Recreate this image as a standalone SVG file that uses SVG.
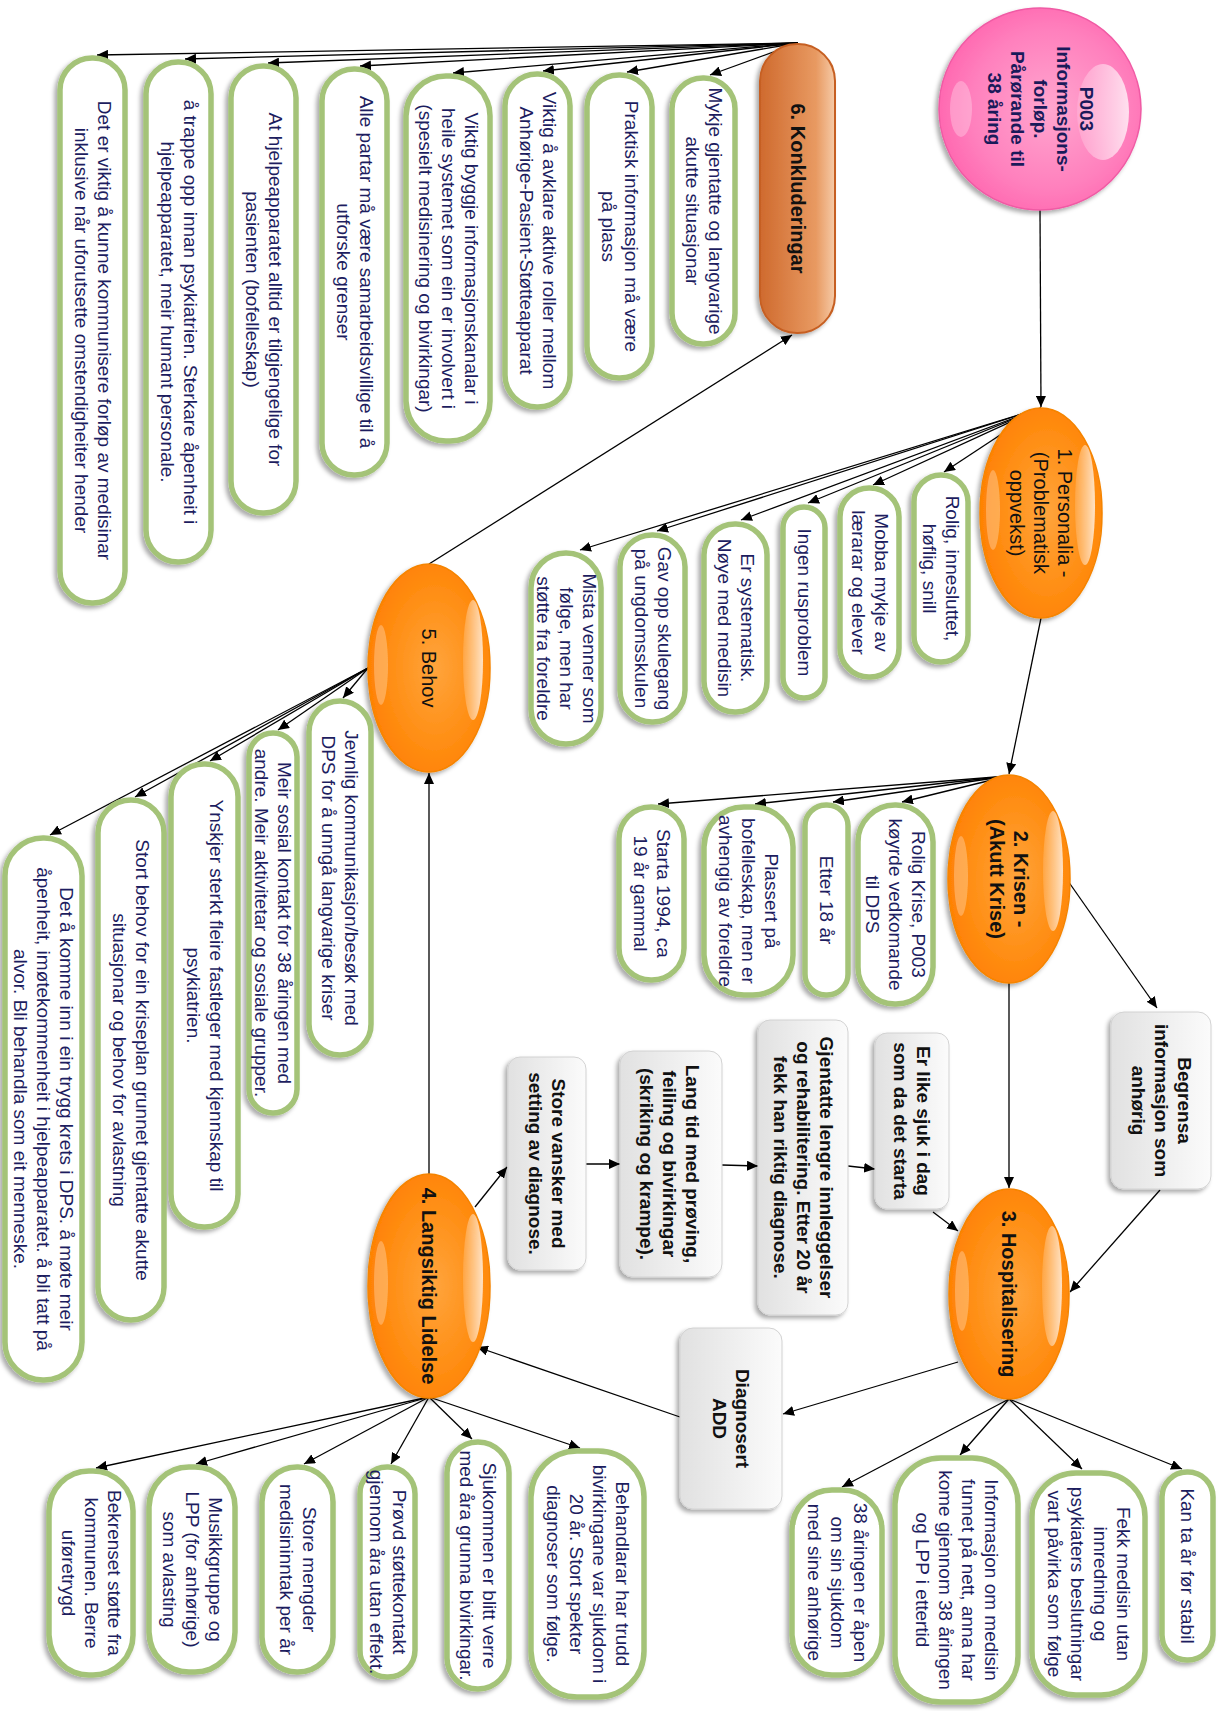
<svg xmlns="http://www.w3.org/2000/svg" width="1223" height="1711" viewBox="0 0 1223 1711">
  <defs>
    <style>
      .pill { fill: #ffffff; stroke: #a4c378; stroke-width: 5.5; filter: url(#sh); }
      .box { fill: url(#grey); stroke: #d2d2d2; stroke-width: 1; filter: url(#sh); }
      .orb { fill: url(#orange); stroke: #f58400; stroke-width: 1.5; filter: url(#sh); }
      .hl { fill: url(#shine); }
      .hl2 { fill: #ffffff; opacity: 0.28; }
      .tp { font-family: "Liberation Sans", Arial, sans-serif; font-size: 19px; fill: #1d1d5f; text-anchor: middle; }
      .tb { font-family: "Liberation Sans", Arial, sans-serif; font-size: 19px; font-weight: bold; fill: #111111; text-anchor: middle; }
      .to { font-family: "Liberation Sans", Arial, sans-serif; font-size: 20px; fill: #111111; text-anchor: middle; }
      .tob { font-family: "Liberation Sans", Arial, sans-serif; font-size: 20px; font-weight: bold; fill: #111111; text-anchor: middle; }
      .tr { font-family: "Liberation Sans", Arial, sans-serif; font-size: 19px; font-weight: bold; fill: #1a1a5a; text-anchor: middle; }
      .edge { stroke: #000000; stroke-width: 1.3; fill: none; marker-end: url(#ah); }
    </style>
    <marker id="ah" markerUnits="userSpaceOnUse" markerWidth="12" markerHeight="10" refX="11" refY="5" orient="auto">
      <path d="M0,0 L11,5 L0,10 z" fill="#000000"/>
    </marker>
    <filter id="sh" x="-15%" y="-20%" width="135%" height="150%">
      <feDropShadow dx="3" dy="3" stdDeviation="2.2" flood-color="#000000" flood-opacity="0.33"/>
    </filter>
    <radialGradient id="orange" cx="50%" cy="45%" r="60%">
      <stop offset="0%" stop-color="#ffa43c"/>
      <stop offset="65%" stop-color="#ff8d12"/>
      <stop offset="100%" stop-color="#ff7e00"/>
    </radialGradient>
    <radialGradient id="pink" cx="50%" cy="45%" r="60%">
      <stop offset="0%" stop-color="#ffa6cf"/>
      <stop offset="65%" stop-color="#ff80bd"/>
      <stop offset="100%" stop-color="#ff62ad"/>
    </radialGradient>
    <linearGradient id="shine" x1="0" y1="0" x2="0" y2="1">
      <stop offset="0%" stop-color="#ffffff" stop-opacity="0.75"/>
      <stop offset="100%" stop-color="#ffffff" stop-opacity="0.15"/>
    </linearGradient>
    <linearGradient id="grey" x1="0" y1="0" x2="0" y2="1">
      <stop offset="0%" stop-color="#fbfbfb"/>
      <stop offset="100%" stop-color="#e1e1e1"/>
    </linearGradient>
    <linearGradient id="copper" x1="0" y1="0" x2="0" y2="1">
      <stop offset="0%" stop-color="#f6cba8"/>
      <stop offset="25%" stop-color="#e89a62"/>
      <stop offset="100%" stop-color="#cf6a2e"/>
    </linearGradient>
  </defs>

  <rect x="0" y="0" width="1223" height="1711" fill="#ffffff"/>

  <!-- whole chart is laid out left-to-right, then turned a quarter clockwise -->
  <g transform="translate(1223,0) rotate(90)">

    <g id="connectors">
      <line class="edge" x1="210" y1="183" x2="407" y2="182"/>
      <line class="edge" x1="618" y1="182" x2="774" y2="214"/>
      <line class="edge" x1="983" y1="214" x2="1188" y2="214"/>
      <line class="edge" x1="881" y1="155" x2="1008" y2="66"/>
      <line class="edge" x1="1190" y1="63" x2="1292" y2="153"/>
      <line class="edge" x1="1212" y1="290" x2="1231" y2="265"/>
      <line class="edge" x1="1166" y1="375" x2="1169" y2="348"/>
      <line class="edge" x1="1165" y1="501" x2="1166" y2="465"/>
      <line class="edge" x1="1164" y1="637" x2="1164" y2="603"/>
      <line class="edge" x1="1207" y1="748" x2="1167" y2="716"/>
      <line class="edge" x1="1362" y1="265" x2="1414" y2="440"/>
      <line class="edge" x1="1417" y1="543" x2="1347" y2="746"/>
      <line class="edge" x1="1174" y1="794" x2="773" y2="794"/>
      <line class="edge" x1="564" y1="794" x2="335" y2="431"/>

      <!-- 1. Personalia fan -->
      <line class="edge" x1="408" y1="182" x2="472" y2="279"/>
      <line class="edge" x1="408" y1="182" x2="485" y2="350"/>
      <line class="edge" x1="408" y1="182" x2="503" y2="415"/>
      <line class="edge" x1="408" y1="182" x2="520" y2="482"/>
      <line class="edge" x1="408" y1="182" x2="531" y2="566"/>
      <line class="edge" x1="408" y1="182" x2="550" y2="643"/>

      <!-- 2. Krisen fan -->
      <line class="edge" x1="776" y1="215" x2="802" y2="321"/>
      <line class="edge" x1="776" y1="215" x2="802" y2="390"/>
      <line class="edge" x1="776" y1="215" x2="804" y2="468"/>
      <line class="edge" x1="776" y1="215" x2="804" y2="565"/>

      <!-- 3. Hospitalisering fan -->
      <line class="edge" x1="1399" y1="214" x2="1469" y2="41"/>
      <line class="edge" x1="1399" y1="214" x2="1469" y2="141"/>
      <line class="edge" x1="1399" y1="214" x2="1455" y2="263"/>
      <line class="edge" x1="1399" y1="214" x2="1487" y2="381"/>

      <!-- 4. Langsiktig Lidelse fan -->
      <line class="edge" x1="1397" y1="794" x2="1448" y2="643"/>
      <line class="edge" x1="1397" y1="794" x2="1439" y2="751"/>
      <line class="edge" x1="1397" y1="794" x2="1464" y2="832"/>
      <line class="edge" x1="1397" y1="794" x2="1464" y2="919"/>
      <line class="edge" x1="1397" y1="794" x2="1464" y2="1027"/>
      <line class="edge" x1="1397" y1="794" x2="1468" y2="1127"/>

      <!-- 5. Behov fan -->
      <line class="edge" x1="668" y1="855" x2="698" y2="880"/>
      <line class="edge" x1="668" y1="855" x2="730" y2="945"/>
      <line class="edge" x1="668" y1="855" x2="761" y2="1013"/>
      <line class="edge" x1="668" y1="855" x2="797" y2="1088"/>
      <line class="edge" x1="668" y1="855" x2="835" y2="1173"/>

      <!-- 6. Konkluderingar fan -->
      <line class="edge" x1="43" y1="425" x2="75" y2="513"/>
      <line class="edge" x1="43" y1="425" x2="72" y2="596"/>
      <line class="edge" x1="43" y1="425" x2="71" y2="680"/>
      <line class="edge" x1="43" y1="425" x2="73" y2="770"/>
      <line class="edge" x1="43" y1="425" x2="66" y2="863"/>
      <line class="edge" x1="43" y1="425" x2="63" y2="955"/>
      <line class="edge" x1="43" y1="425" x2="59" y2="1038"/>
      <line class="edge" x1="43" y1="425" x2="55" y2="1126"/>
    </g>

    <!-- root -->
    <g id="root">
      <circle cx="109" cy="183" r="101" fill="url(#pink)" stroke="#f05aa4" stroke-width="1.5" filter="url(#sh)"/>
      <ellipse class="hl" cx="112" cy="120" rx="48" ry="26"/>
      <ellipse class="hl2" cx="109" cy="262" rx="28" ry="11"/>
      <text class="tr" x="109" y="143">P003</text>
      <text class="tr" x="109" y="166">Informasjons-</text>
      <text class="tr" x="109" y="189">forløp.</text>
      <text class="tr" x="109" y="212">Pårørande til</text>
      <text class="tr" x="109" y="235">38 åring</text>
    </g>

    <!-- 1. Personalia -->
    <g id="n1">
      <ellipse class="orb" cx="513" cy="182" rx="105" ry="61"/>
      <ellipse class="hl" cx="505" cy="138" rx="60" ry="10"/>
      <ellipse class="hl2" cx="510" cy="230" rx="40" ry="7"/>
      <text class="to" x="513" y="165">1. Personalia -</text>
      <text class="to" x="513" y="189">(Problematisk</text>
      <text class="to" x="513" y="213">oppvekst)</text>
    </g>
    <g id="n1a"><rect class="pill" x="475" y="255" width="187" height="54" rx="27"/>
      <text class="tp" x="568.5" y="277">Rolig, innesluttet,</text><text class="tp" x="568.5" y="300">høflig, snill</text></g>
    <g id="n1b"><rect class="pill" x="488" y="324" width="189" height="59" rx="29"/>
      <text class="tp" x="582.5" y="348.5">Mobba mykje av</text><text class="tp" x="582.5" y="371.5">lærarar og elever</text></g>
    <g id="n1c"><rect class="pill" x="507" y="398" width="191" height="42" rx="21"/>
      <text class="tp" x="602.5" y="425.5">Ingen rusproblem</text></g>
    <g id="n1d"><rect class="pill" x="524" y="456" width="188" height="63" rx="31"/>
      <text class="tp" x="618" y="482.5">Er systematisk.</text><text class="tp" x="618" y="505.5">Nøye med medisin</text></g>
    <g id="n1e"><rect class="pill" x="535" y="538" width="187" height="65" rx="32"/>
      <text class="tp" x="628.5" y="565.5">Gav opp skulegang</text><text class="tp" x="628.5" y="588.5">på ungdomsskulen</text></g>
    <g id="n1f"><rect class="pill" x="553" y="622" width="191" height="70" rx="35"/>
      <text class="tp" x="648.5" y="640.5">Mista venner som</text><text class="tp" x="648.5" y="663.5">følge, men har</text><text class="tp" x="648.5" y="686.5">støtte fra foreldre</text></g>

    <!-- 2. Krisen -->
    <g id="n2">
      <ellipse class="orb" cx="879" cy="214" rx="104" ry="61"/>
      <ellipse class="hl" cx="871" cy="170" rx="60" ry="10"/>
      <ellipse class="hl2" cx="876" cy="262" rx="40" ry="7"/>
      <text class="tob" x="879" y="209">2. Krisen -</text>
      <text class="tob" x="879" y="233">(Akutt Krise)</text>
    </g>
    <g id="n2a"><rect class="pill" x="805" y="290" width="199" height="75" rx="37"/>
      <text class="tp" x="904.5" y="311">Rolig Krise, P003</text><text class="tp" x="904.5" y="334">køyrde vedkomande</text><text class="tp" x="904.5" y="357">til DPS</text></g>
    <g id="n2b"><rect class="pill" x="805" y="375" width="190" height="43" rx="21"/>
      <text class="tp" x="900" y="403">Etter 18 år</text></g>
    <g id="n2c"><rect class="pill" x="807" y="430" width="188" height="89" rx="40"/>
      <text class="tp" x="901" y="458">Plassert på</text><text class="tp" x="901" y="481">bofelleskap, men er</text><text class="tp" x="901" y="504">avhengig av foreldre</text></g>
    <g id="n2d"><rect class="pill" x="807" y="539" width="173" height="65" rx="32"/>
      <text class="tp" x="893.5" y="566.5">Starta 1994, ca</text><text class="tp" x="893.5" y="589.5">19 år gammal</text></g>

    <g id="begrensa"><rect class="box" x="1012" y="12" width="177" height="100" rx="13"/>
      <text class="tb" x="1100.5" y="45.5">Begrensa</text><text class="tb" x="1100.5" y="68.5">informasjon som</text><text class="tb" x="1100.5" y="91.5">anhørig</text></g>

    <!-- 3. Hospitalisering -->
    <g id="n3">
      <ellipse class="orb" cx="1294" cy="214" rx="105" ry="60"/>
      <ellipse class="hl" cx="1286" cy="171" rx="60" ry="10"/>
      <ellipse class="hl2" cx="1291" cy="261" rx="40" ry="7"/>
      <text class="tob" x="1294" y="221">3. Hospitalisering</text>
    </g>
    <g id="n3a"><rect class="pill" x="1472" y="10" width="188" height="51" rx="25"/>
      <text class="tp" x="1566" y="42">Kan ta år før stabil</text></g>
    <g id="n3b"><rect class="pill" x="1473" y="78" width="222" height="113" rx="44"/>
      <text class="tp" x="1584" y="106.5">Fekk medisin utan</text><text class="tp" x="1584" y="129.5">innredning og</text><text class="tp" x="1584" y="152.5">psykiaters beslutningar</text><text class="tp" x="1584" y="175.5">vart påvirka som følge</text></g>
    <g id="n3c"><rect class="pill" x="1458" y="205" width="244" height="123" rx="46"/>
      <text class="tp" x="1580" y="238.5">Informasjon om medisin</text><text class="tp" x="1580" y="261.5">funnet på nett, anna har</text><text class="tp" x="1580" y="284.5">kome gjennom 38 åringen</text><text class="tp" x="1580" y="307.5">og LPP i ettertid</text></g>
    <g id="n3d"><rect class="pill" x="1490" y="341" width="185" height="90" rx="40"/>
      <text class="tp" x="1582.5" y="369.5">38 åringen er åpen</text><text class="tp" x="1582.5" y="392.5">om sin sjukdom</text><text class="tp" x="1582.5" y="415.5">med sine anhørige</text></g>

    <g id="erlike"><rect class="box" x="1033" y="274" width="176" height="74" rx="12"/>
      <text class="tb" x="1121" y="306">Er like sjuk i dag</text><text class="tb" x="1121" y="329">som da det starta</text></g>
    <g id="gjentatte"><rect class="box" x="1020" y="375" width="295" height="90" rx="12"/>
      <text class="tb" x="1167.5" y="403.5">Gjentatte lengre innleggelser</text><text class="tb" x="1167.5" y="426.5">og rehabilitering. Etter 20 år</text><text class="tb" x="1167.5" y="449.5">fekk han riktig diagnose.</text></g>
    <g id="langtid"><rect class="box" x="1051" y="501" width="226" height="102" rx="13"/>
      <text class="tb" x="1164" y="537">Lang tid med  prøving,</text><text class="tb" x="1164" y="560">feiling og bivirkingar</text><text class="tb" x="1164" y="583">(skriking og krampe).</text></g>
    <g id="storevansker"><rect class="box" x="1057" y="637" width="213" height="78" rx="12"/>
      <text class="tb" x="1163.5" y="671">Store vansker med</text><text class="tb" x="1163.5" y="694">setting av diagnose.</text></g>
    <g id="diagnosert"><rect class="box" x="1328" y="441" width="181" height="102" rx="13"/>
      <text class="tb" x="1418.5" y="487">Diagnosert</text><text class="tb" x="1418.5" y="510">ADD</text></g>

    <!-- 4. Langsiktig Lidelse -->
    <g id="n4">
      <ellipse class="orb" cx="1286" cy="794" rx="112" ry="61"/>
      <ellipse class="hl" cx="1278" cy="750" rx="64" ry="10"/>
      <ellipse class="hl2" cx="1283" cy="842" rx="42" ry="7"/>
      <text class="tob" x="1286" y="801">4. Langsiktig Lidelse</text>
    </g>
    <g id="n4a"><rect class="pill" x="1451" y="579" width="246" height="113" rx="46"/>
      <text class="tp" x="1574" y="607.5">Behandlarar har trudd</text><text class="tp" x="1574" y="630.5">bivirkingane var sjukdom i</text><text class="tp" x="1574" y="653.5">20 år. Stort spekter</text><text class="tp" x="1574" y="676.5">diagnoser som følge.</text></g>
    <g id="n4b"><rect class="pill" x="1442" y="714" width="247" height="62" rx="31"/>
      <text class="tp" x="1565.5" y="740">Sjukommen er blitt verre</text><text class="tp" x="1565.5" y="763">med åra grunna bivirkingar.</text></g>
    <g id="n4c"><rect class="pill" x="1467" y="808" width="210" height="55" rx="27"/>
      <text class="tp" x="1572" y="830.5">Prøvd støttekontakt</text><text class="tp" x="1572" y="853.5">gjennom åra utan effekt.</text></g>
    <g id="n4d"><rect class="pill" x="1467" y="890" width="205" height="71" rx="35"/>
      <text class="tp" x="1569.5" y="920.5">Store mengder</text><text class="tp" x="1569.5" y="943.5">medisininntak per år</text></g>
    <g id="n4e"><rect class="pill" x="1467" y="988" width="205" height="86" rx="40"/>
      <text class="tp" x="1569.5" y="1014.5">Musikkgruppe og</text><text class="tp" x="1569.5" y="1037.5">LPP (for anhørige)</text><text class="tp" x="1569.5" y="1060.5">som avlasting</text></g>
    <g id="n4f"><rect class="pill" x="1471" y="1090" width="204" height="84" rx="40"/>
      <text class="tp" x="1573" y="1115.5">Bekrenset støtte fra</text><text class="tp" x="1573" y="1138.5">kommunen. Berre</text><text class="tp" x="1573" y="1161.5">uføretrygd</text></g>

    <!-- 5. Behov -->
    <g id="n5">
      <ellipse class="orb" cx="668" cy="794" rx="104" ry="61"/>
      <ellipse class="hl" cx="660" cy="750" rx="60" ry="10"/>
      <ellipse class="hl2" cx="665" cy="842" rx="40" ry="7"/>
      <text class="to" x="668" y="801">5. Behov</text>
    </g>
    <g id="n5a"><rect class="pill" x="701" y="852" width="354" height="62" rx="31"/>
      <text class="tp" x="878" y="878">Jevnlig kommunikasjon/besøk med</text><text class="tp" x="878" y="901">DPS for å unngå langvarige kriser</text></g>
    <g id="n5b"><rect class="pill" x="733" y="926" width="380" height="48" rx="24"/>
      <text class="tp" x="923" y="945">Meir sosial kontakt for 38 åringen med</text><text class="tp" x="923" y="968">andre. Meir aktivitetar og sosiale grupper.</text></g>
    <g id="n5c"><rect class="pill" x="764" y="985" width="463" height="67" rx="33"/>
      <text class="tp" x="995.5" y="1013.5">Ynskjer sterkt fleire fastleger med kjennskap til</text><text class="tp" x="995.5" y="1036.5">psykiatrien.</text></g>
    <g id="n5d"><rect class="pill" x="800" y="1059" width="520" height="66" rx="33"/>
      <text class="tp" x="1060" y="1087">Stort behov for ein kriseplan grunnet gjentatte akutte</text><text class="tp" x="1060" y="1110">situasjonar og behov for avlastning</text></g>
    <g id="n5e"><rect class="pill" x="838" y="1141" width="542" height="77" rx="38"/>
      <text class="tp" x="1109" y="1163">Det å komme inn i ein trygg krets i DPS. å møte meir</text><text class="tp" x="1109" y="1186">åpenheit, imøtekommenheit i hjelpeapparatet. å bli tatt på</text><text class="tp" x="1109" y="1209">alvor. Bli behandla som eit menneske.</text></g>

    <!-- 6. Konkluderingar -->
    <g id="n6">
      <rect x="44" y="388" width="289" height="75" rx="37" fill="url(#copper)" stroke="#c65f22" stroke-width="2" filter="url(#sh)"/>
      <text class="tob" x="188.5" y="432">6. Konkluderingar</text>
    </g>
    <g id="n6a"><rect class="pill" x="78" y="488" width="266" height="63" rx="31"/>
      <text class="tp" x="211" y="514.5">Mykje gjentatte og langvarige</text><text class="tp" x="211" y="537.5">akutte situasjonar</text></g>
    <g id="n6b"><rect class="pill" x="75" y="571" width="303" height="65" rx="32"/>
      <text class="tp" x="226.5" y="598.5">Praktisk informasjon må være</text><text class="tp" x="226.5" y="621.5">på plass</text></g>
    <g id="n6c"><rect class="pill" x="74" y="653" width="333" height="65" rx="32"/>
      <text class="tp" x="240.5" y="680.5">Viktig å avklare aktive roller mellom</text><text class="tp" x="240.5" y="703.5">Anhørige-Pasient-Støtteapparat</text></g>
    <g id="n6d"><rect class="pill" x="76" y="733" width="365" height="84" rx="40"/>
      <text class="tp" x="258.5" y="758.5">Viktig byggje informasjonskanalar i</text><text class="tp" x="258.5" y="781.5">heile systemet som ein er involvert i</text><text class="tp" x="258.5" y="804.5">(spesielt medisinering og bivirkingar)</text></g>
    <g id="n6e"><rect class="pill" x="69" y="836" width="406" height="65" rx="32"/>
      <text class="tp" x="272" y="863.5">Alle partar må være samarbeidsvillige til å</text><text class="tp" x="272" y="886.5">utforske grenser</text></g>
    <g id="n6f"><rect class="pill" x="66" y="927" width="447" height="65" rx="32"/>
      <text class="tp" x="289.5" y="954.5">At hjelpeapparatet alltid er tilgjengelige for</text><text class="tp" x="289.5" y="977.5">pasienten (bofelleskap)</text></g>
    <g id="n6g"><rect class="pill" x="62" y="1012" width="500" height="65" rx="32"/>
      <text class="tp" x="312" y="1039.5">å trappe opp innan psykiatrien. Sterkare åpenheit i</text><text class="tp" x="312" y="1062.5">hjelpeapparatet, meir humant personale.</text></g>
    <g id="n6h"><rect class="pill" x="58" y="1098" width="545" height="65" rx="32"/>
      <text class="tp" x="330.5" y="1125.5">Det er viktig å kunne kommunisere forløp av medisinar</text><text class="tp" x="330.5" y="1148.5">inklusive når uforutsette omstendigheiter hender</text></g>
  </g>
</svg>
